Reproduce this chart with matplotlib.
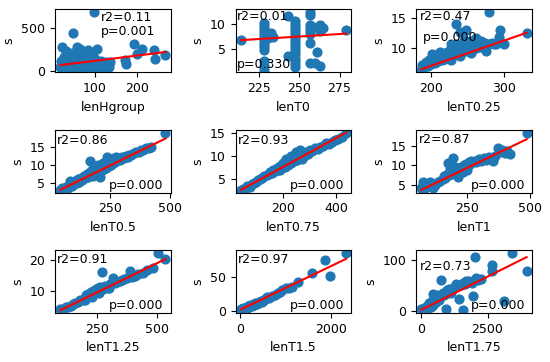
import numpy as np
import matplotlib
matplotlib.use("Agg")
import matplotlib.pyplot as plt
from matplotlib.ticker import MaxNLocator

plt.rcParams['font.size'] = 9

# one entry per panel
names = ['lenHgroup', 'lenT0', 'lenT0.25', 'lenT0.5', 'lenT0.75',
         'lenT1', 'lenT1.25', 'lenT1.5', 'lenT1.75']
r2_vals = ['0.11', '0.01', '0.47', '0.86', '0.93', '0.87', '0.91', '0.97', '0.73']
p_vals = ['0.001', '0.330', '0.000', '0.000', '0.000', '0.000', '0.000', '0.000', '0.000']
# fitted line: (intercept, slope)
fits = [(57, 0.613), (2.57, 0.02), (-1.4, 0.042), (1.6, 0.0325), (1.43, 0.031),
        (1.64, 0.0309), (-0.23, 0.0384), (1.75, 0.032), (2.0, 0.0259)]

pts_hgroup = [(98, 690), (48, 448), (20, 283), (58, 283), (64, 263), (84, 244), (104, 252),
              (192, 314), (212, 263), (200, 204), (240, 244), (242, 145), (268, 185),
              (172, 126), (174, 86), (136, 106), (132, 67),
              (17, 40), (19, 120), (21, 70), (23, 20), (25, 160), (27, 95), (29, 45), (31, 230),
              (33, 130), (35, 60), (37, 25), (39, 180), (41, 100), (43, 50), (45, 210), (47, 140),
              (49, 80), (51, 30), (53, 190), (55, 120), (57, 60), (59, 240), (61, 150), (63, 90),
              (65, 35), (67, 200), (69, 110), (71, 70), (73, 25), (75, 170), (77, 130), (79, 55),
              (81, 95), (83, 40), (85, 150), (87, 75), (89, 20), (91, 120), (93, 60), (95, 180),
              (97, 90), (99, 35), (101, 140), (104, 70), (107, 100), (110, 45), (113, 120),
              (116, 60), (119, 85), (122, 30), (125, 100), (128, 50), (131, 75), (134, 40),
              (30, 15), (45, 15), (60, 18), (75, 15), (90, 16), (105, 20)]

pts_t0 = [(214, 6.9),
          (228.6, 10.3), (228.6, 9.6), (228.6, 9.0), (228.6, 8.4), (228.6, 7.8), (228.6, 7.2),
          (228.6, 6.6), (228.6, 6.0), (228.6, 5.4), (228.6, 4.8), (228.6, 2.7), (228.6, 1.8),
          (228.6, 1.0),
          (232.7, 8.2), (232.7, 7.6), (231, 7.2), (234, 7.4),
          (243, 11.7), (243, 3.7),
          (247.3, 10.6), (247.3, 10.0), (247.3, 9.4), (247.3, 8.8), (247.3, 8.2), (247.3, 7.6),
          (247.3, 7.0), (247.3, 6.4), (247.3, 5.8), (247.3, 5.2), (247.3, 4.6), (247.3, 4.0),
          (247.3, 3.4), (247.3, 2.8), (247.3, 2.2), (247.3, 1.5),
          (257, 12.4), (257, 11.8), (257, 9.8), (257, 9.2), (257, 8.6), (257, 8.0), (257, 6.3),
          (257, 2.4), (258.5, 9.5),
          (263, 9.8), (263, 8.6), (261, 4.4), (263, 1.8), (260, 2.4), (264.5, 9.2),
          (279, 8.85)]

pts_t025 = [(187, 6.4), (188, 7.2), (191, 6.8), (193, 7.6), (196, 7.0), (198, 8.0), (200, 7.3),
            (203, 8.4), (205, 7.5), (207, 8.8), (210, 7.8), (212, 8.6), (215, 8.0), (217, 9.0),
            (219, 8.2), (222, 9.3), (224, 8.4), (226, 9.6), (229, 8.7), (231, 9.9), (233, 8.9),
            (236, 10.1), (238, 9.1), (240, 10.4), (243, 9.3), (245, 10.6), (248, 9.5),
            (250, 10.9), (252, 9.7), (255, 11.1), (257, 9.8), (259, 11.3), (262, 10.0),
            (264, 11.0), (267, 10.2), (269, 11.2), (272, 10.3), (274, 10.8), (277, 10.5),
            (280, 10.6), (283, 10.8), (286, 10.6), (289, 10.7), (201, 8.9), (213, 9.3),
            (234, 10.6), (246, 11.3), (262, 11.6), (276, 9.4), (255, 9.2), (227, 8.0), (240, 8.6),
            (279.6, 15.9), (235, 14.0), (248, 13.0), (240, 12.6), (227, 10.7), (294, 12.9),
            (293, 11.8), (299.5, 10.7), (331, 12.5)]

pts_t05 = [(44, 3.0), (52, 3.4), (60, 3.2), (68, 3.9), (75, 3.6), (82, 4.4), (86, 5.5), (92, 4.2),
           (100, 4.9), (106, 5.6), (112, 4.8), (118, 5.9), (124, 5.3), (130, 6.3), (136, 5.8),
           (142, 6.8), (148, 6.2), (154, 7.3), (160, 6.7), (166, 7.9), (169, 11.1), (172, 7.2),
           (176, 8.6), (180, 6.8), (184, 9.0), (188, 7.6), (192, 9.5), (196, 8.0), (200, 10.0),
           (204, 7.4), (208, 9.0), (211, 6.5), (214, 9.8), (218, 8.4), (222, 10.4), (226, 8.8),
           (230, 10.8), (234, 9.2), (239, 12.1), (242, 10.2), (246, 9.6), (250, 11.0),
           (254, 10.0), (258, 11.4), (262, 10.4), (266, 11.8), (270, 10.8), (274, 12.1),
           (280, 11.2), (286, 11.8), (292, 11.4), (300, 12.0), (308, 11.8), (316, 12.4),
           (324, 12.2), (332, 12.8), (340, 12.7), (350, 13.2), (360, 13.4), (370, 13.6),
           (380, 14.0), (390, 14.2), (400, 14.6), (412, 14.5), (422, 14.9), (482, 18.9)]

pts_t075 = [(41, 2.7), (50, 3.0), (58, 2.9), (66, 3.5), (74, 3.4), (82, 3.9), (90, 4.2), (98, 4.4),
            (106, 4.8), (114, 5.0), (122, 5.3), (130, 5.6), (138, 5.9), (146, 6.2), (152, 6.6),
            (158, 6.3), (164, 7.0), (170, 6.7), (176, 7.4), (182, 7.0), (188, 7.9), (194, 7.3),
            (200, 8.4), (206, 7.6), (212, 8.8), (218, 8.0), (224, 9.2), (230, 8.4), (236, 9.6),
            (242, 8.8), (248, 10.0), (252, 9.2), (256, 10.6), (262, 11.3), (266, 9.8),
            (272, 10.4), (278, 10.0), (286, 10.8), (294, 10.5), (302, 11.2), (310, 11.0),
            (320, 11.6), (330, 11.4), (340, 12.0), (350, 12.2), (362, 12.7), (372, 12.6),
            (384, 13.0), (396, 13.4), (408, 13.6), (420, 14.0), (437, 14.8), (230, 10.0),
            (250, 10.8), (210, 9.4), (190, 7.0), (270, 9.4)]

pts_t1 = [(65, 4.1), (72, 5.8), (80, 4.2), (99, 5.8), (112, 4.1), (120, 5.0), (130, 5.6), (140, 6.0),
          (150, 6.5), (155, 7.2), (160, 6.8), (165, 7.6), (172, 10.6), (175, 7.4), (180, 8.0),
          (185, 7.8), (192, 11.9), (195, 8.4), (200, 8.0), (205, 8.8), (210, 8.6), (213, 7.1),
          (215, 9.2), (220, 8.8), (225, 9.6), (230, 9.2), (235, 10.0), (240, 9.6), (245, 10.4),
          (250, 10.0), (255, 10.8), (260, 10.4), (265, 11.2), (270, 10.8), (279, 11.0),
          (285, 10.8), (295, 11.5), (305, 11.0), (315, 11.8), (325, 11.4), (335, 12.0),
          (345, 11.8), (353, 11.0), (360, 12.5), (373, 14.5), (380, 13.5), (390, 13.8),
          (400, 13.2), (410, 13.6), (420, 12.8), (487, 18.4), (180, 9.0), (200, 9.6),
          (230, 8.2), (250, 8.8)]

pts_t125 = [(97, 3.8), (110, 4.0), (120, 4.5), (130, 4.6), (140, 5.0), (150, 5.6), (160, 5.8),
            (170, 6.3), (180, 6.8), (190, 7.0), (200, 7.6), (205, 8.5), (210, 7.8), (215, 9.0),
            (220, 8.4), (225, 9.5), (230, 8.8), (235, 10.0), (240, 9.2), (245, 10.4), (250, 9.6),
            (255, 10.8), (260, 10.0), (265, 11.2), (271, 16.1), (275, 10.6), (285, 11.4),
            (295, 11.0), (305, 12.0), (319, 14.3), (325, 12.4), (335, 12.8), (345, 13.0),
            (355, 13.4), (365, 13.8), (375, 14.2), (389, 16.5), (395, 14.6), (410, 14.8),
            (420, 15.4), (444, 15.9), (460, 16.8), (486, 17.5), (507, 22.4), (537, 20.4),
            (200, 6.8), (230, 8.0), (260, 9.2), (300, 10.8)]

pts_t15 = [(14, 2.9), (30, 1.0), (50, 2.0), (60, 4.0), (80, 3.0), (100, 5.0), (120, 3.5), (140, 6.0),
           (160, 5.0), (180, 7.0), (200, 5.5), (220, 8.0), (250, 7.0), (280, 9.0), (300, 8.5),
           (330, 11.0), (360, 10.0), (400, 12.0), (420, 13.0), (450, 14.0), (480, 13.5),
           (520, 16.0), (556, 18.0), (600, 20.0), (640, 19.0), (700, 22.0), (760, 24.0),
           (820, 26.0), (870, 27.0), (917, 30.0), (1000, 33.0), (1080, 33.5), (1134, 34.8),
           (1278, 41.9), (1581, 56.2), (1856, 74.3), (1964, 51.4), (2325, 84.8)]

pts_t175 = [(0, 3), (50, 1), (100, 6), (150, 3), (200, 10), (250, 5), (300, 15), (350, 8), (400, 20),
            (437, 32), (450, 12), (500, 25), (550, 18), (600, 30), (650, 22), (700, 28), (750, 60),
            (800, 35), (850, 30), (912, 3), (950, 40), (1000, 35), (1050, 42), (1125, 35.5),
            (1200, 45), (1312, 51.6), (1400, 48), (1437, 22.6), (1500, 50), (1562, 55), (1587, 2),
            (1650, 52), (1700, 58), (1812, 58), (1900, 55), (1937, 28), (2037, 106), (2062, 64.5),
            (2150, 60), (2250, 62), (2662, 77.4), (2687, 90), (3125, 19.4), (3412, 113),
            (3975, 77.4)]

panels = [pts_hgroup, pts_t0, pts_t025, pts_t05, pts_t075, pts_t1, pts_t125, pts_t15, pts_t175]

# text placement in axes fraction: (x, y, ha, va)
r2_pos = [(0.40, 0.97, 'left', 'top'), (0.01, 0.99, 'left', 'top'), (0.03, 0.99, 'left', 'top'),
          (0.02, 0.94, 'left', 'top'), (0.02, 0.94, 'left', 'top'), (0.02, 0.95, 'left', 'top'),
          (0.02, 0.96, 'left', 'top'), (0.02, 0.95, 'left', 'top'), (0.03, 0.69, 'left', 'baseline')]
p_pos = [(0.40, 0.76, 'left', 'top'), (0.01, 0.02, 'left', 'bottom'), (0.06, 0.50, 'left', 'baseline')] + \
        [(0.94, 0.02, 'right', 'bottom')] * 6

fig, axes = plt.subplots(3, 3, figsize=(5.5, 3.62), dpi=100)
fig.subplots_adjust(left=0.1, right=0.967, top=0.974, bottom=0.135, wspace=0.56, hspace=0.91)

for i, ax in enumerate(axes.flat):
    xy = np.array(panels[i], dtype=float)
    x, y = xy[:, 0], xy[:, 1]
    ax.scatter(x, y, s=40, color='#1f77b4')
    b0, b1 = fits[i]
    xl = np.array([x.min(), x.max()])
    ax.plot(xl, b0 + b1 * xl, color='red')
    ax.set_xlabel(names[i])
    ax.set_ylabel('s')
    ax.xaxis.set_major_locator(MaxNLocator(nbins=2, steps=[1, 2, 2.5, 5, 10]))
    ax.yaxis.set_major_locator(MaxNLocator(nbins=2, steps=[1, 2, 2.5, 5, 10]))
    tx, ty, ha, va = r2_pos[i]
    ax.text(tx, ty, 'r2=' + r2_vals[i], transform=ax.transAxes, ha=ha, va=va)
    tx, ty, ha, va = p_pos[i]
    ax.text(tx, ty, 'p=' + p_vals[i], transform=ax.transAxes, ha=ha, va=va)

plt.savefig('out.png', dpi=100)
